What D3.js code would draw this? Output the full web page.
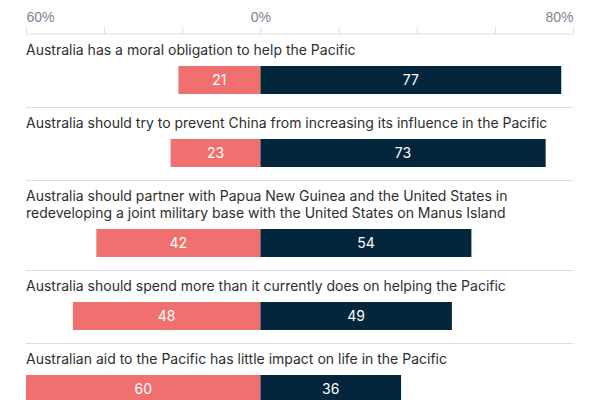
<!DOCTYPE html>
<html>
<head>
<meta charset="utf-8">
<script src="https://cdn.jsdelivr.net/npm/d3@7"></script>
<style>
    body { margin: 0; background: #fff; }
    svg { font-family: "Inter", "Roboto", sans-serif; }
</style>
</head>
<body>
<div id="chart"></div>
<script>
// survey statements, top to bottom
const statements = [
    "Australia has a moral obligation to help the Pacific",
    "Australia should try to prevent China from increasing its influence in the Pacific",
    "Australia should partner with Papua New Guinea and the United States in redeveloping a joint military base with the United States on Manus Island",
    "Australia should spend more than it currently does on helping the Pacific",
    "Australian aid to the Pacific has little impact on life in the Pacific"
];
const disagree = [21, 23, 42, 48, 60];
const agree = [77, 73, 54, 49, 36];
const tickValues = [-60, -40, -20, 0, 20, 40, 60, 80];
const labelledTicks = [-60, 0, 80];

const width = 600;
const height = 400;
const lineHeight = 17;

const svg = d3.select("#chart")
    .append("svg")
    .attr("width", width)
    .attr("height", height);

const x = d3.scaleLinear()
    .domain([-60, 80])
    .range([26, 573]);

// axis on top
const axisY = 34;
const xAxis = d3.axisTop(x)
    .tickValues(tickValues)
    .tickSize(7)
    .tickFormat(d => labelledTicks.includes(d) ? `${Math.abs(d)}%` : "");
const axisG = svg.append("g")
    .attr("transform", `translate(0,${axisY})`)
    .call(xAxis);
axisG.select(".domain")
    .attr("d", `M${x(-60)},0H${x(80)}`)
    .attr("stroke", "#d8dfe7");
axisG.selectAll(".tick line").attr("stroke", "#d8dfe7");
axisG.selectAll(".tick text")
    .attr("fill", "#7a8591")
    .attr("font-size", 14)
    .attr("y", -12)
    .attr("text-anchor", d => d === -60 ? "start" : d === 80 ? "end" : "middle");

// wrap text into lines that fit
function wrap(text, maxWidth) {
    const probe = svg.append("text").attr("font-size", 14);
    const words = text.split(" ");
    const lines = [];
    let line = [];
    words.forEach(w => {
        line.push(w);
        probe.text(line.join(" "));
        if (probe.node().getComputedTextLength() > maxWidth && line.length > 1) {
            line.pop();
            lines.push(line.join(" "));
            line = [w];
        }
    });
    lines.push(line.join(" "));
    probe.remove();
    return lines;
}

const rows = statements.map((s, i) => ({
    text: s,
    lines: wrap(s, 547),
    disagree: disagree[i],
    agree: agree[i]
}));

// stack rows vertically, each one starts at a divider line
let yCursor = axisY;
rows.forEach(r => {
    r.top = yCursor;
    r.barTop = yCursor + 21 + (r.lines.length - 1) * lineHeight + 11;
    r.bottom = r.barTop + 28 + 13;
    yCursor = r.bottom;
});

const row = svg.selectAll(".row")
    .data(rows)
    .join("g")
    .attr("class", "row");

row.append("text")
    .attr("fill", "#2e2e2e")
    .attr("font-size", 14)
    .selectAll("tspan")
    .data(d => d.lines.map((l, j) => ({ l, y: d.top + 21 + j * lineHeight })))
    .join("tspan")
    .attr("x", x(-60))
    .attr("y", d => d.y)
    .text(d => d.l);

row.append("rect")
    .attr("x", d => x(-d.disagree))
    .attr("y", d => d.barTop)
    .attr("width", d => x(0) - x(-d.disagree))
    .attr("height", 28)
    .attr("fill", "#f07070");

row.append("rect")
    .attr("x", x(0))
    .attr("y", d => d.barTop)
    .attr("width", d => x(d.agree) - x(0))
    .attr("height", 28)
    .attr("fill", "#03263d");

row.append("text")
    .attr("x", d => (x(-d.disagree) + x(0)) / 2)
    .attr("y", d => d.barTop + 19)
    .attr("text-anchor", "middle")
    .attr("fill", "#fff")
    .attr("font-size", 14)
    .text(d => d.disagree);

row.append("text")
    .attr("x", d => (x(d.agree) + x(0)) / 2)
    .attr("y", d => d.barTop + 19)
    .attr("text-anchor", "middle")
    .attr("fill", "#fff")
    .attr("font-size", 14)
    .text(d => d.agree);

// dividers between rows
row.filter((d, i) => i < rows.length - 1)
    .append("line")
    .attr("x1", x(-60))
    .attr("x2", x(80))
    .attr("y1", d => d.bottom + 0.5)
    .attr("y2", d => d.bottom + 0.5)
    .attr("stroke", "#d8dfe7");
</script>
</body>
</html>
